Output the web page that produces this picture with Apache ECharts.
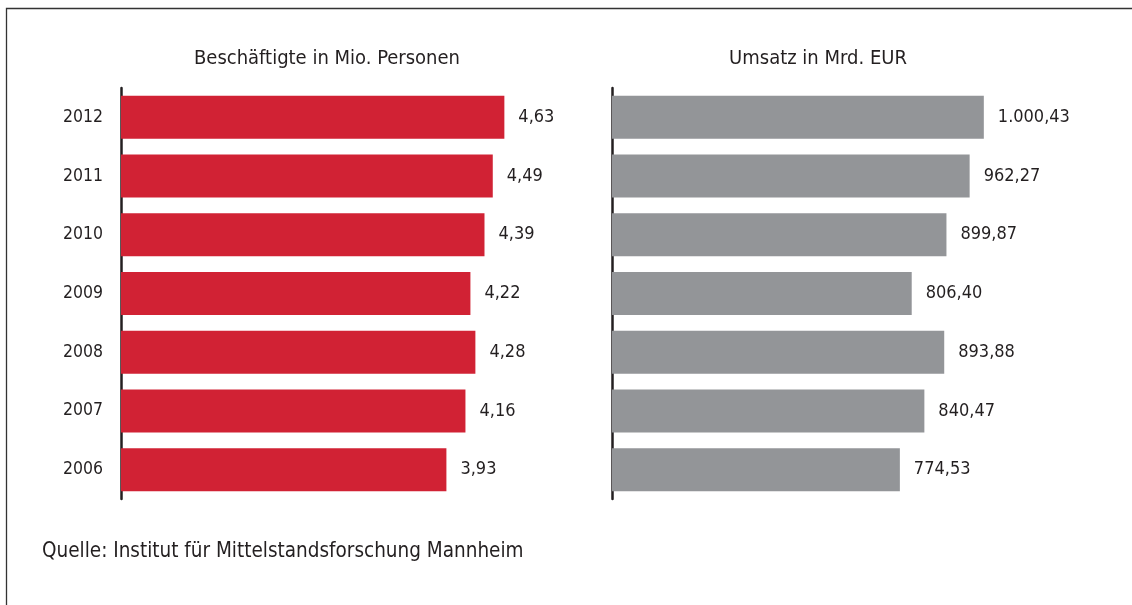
<!DOCTYPE html>
<html>
<head>
<meta charset="utf-8">
<script src="https://cdn.jsdelivr.net/npm/echarts@6/dist/echarts.min.js"></script>
<style>
  html, body { margin: 0; padding: 0; background: #fff; }
  #chart { width: 1132px; height: 605px; }
</style>
</head>
<body>
<div id="chart"></div>
<script>
// Daten
const years = ['2006', '2007', '2008', '2009', '2010', '2011', '2012'];
const beschaeftigte = [3.93, 4.16, 4.28, 4.22, 4.39, 4.49, 4.63];
const umsatz = [774.53, 840.47, 893.88, 806.40, 899.87, 962.27, 1000.43];
const titles = ['Beschäftigte in Mio. Personen', 'Umsatz in Mrd. EUR'];
const quelle = 'Quelle: Institut für Mittelstandsforschung Mannheim';

const textColor = '#231f20';
const font = "'Liberation Sans Narrow', 'DejaVu Sans Condensed', sans-serif";

// deutsche Zahlenformatierung
function fmtDe(v) {
  let parts = v.toFixed(2).split('.');
  let int = parts[0].replace(/\B(?=(\d{3})+(?!\d))/g, '.');
  return int + ',' + parts[1];
}

const chart = echarts.init(document.getElementById('chart'));

const labelStyle = {
  show: true,
  position: 'right',
  distance: 14,
  color: textColor,
  fontSize: 18,
  fontFamily: font,
  formatter: p => fmtDe(p.value)
};

const option = {
  backgroundColor: '#ffffff',
  animation: false,
  title: [
    { text: titles[0], left: 322, top: 44, textAlign: 'center',
      textStyle: { color: textColor, fontSize: 20, fontWeight: 'normal', fontFamily: font } },
    { text: titles[1], left: 813, top: 44, textAlign: 'center',
      textStyle: { color: textColor, fontSize: 20, fontWeight: 'normal', fontFamily: font } },
    { text: quelle, left: 37, top: 536,
      textStyle: { color: textColor, fontSize: 20.5, fontWeight: 'normal', fontFamily: font } }
  ],
  graphic: [
    { type: 'polyline', silent: true,
      shape: { points: [[6.5, 610], [6.5, 8.5], [1140, 8.5]] },
      style: { stroke: '#333', lineWidth: 1.3, fill: null } }
  ],
  grid: [
    { left: 121, top: 88, width: 414, height: 411 },
    { left: 612, top: 88, width: 446, height: 411 }
  ],
  xAxis: [
    { gridIndex: 0, type: 'value', min: 0, max: 5, show: false },
    { gridIndex: 1, type: 'value', min: 0, max: 1200, show: false }
  ],
  yAxis: [
    { gridIndex: 0, type: 'category', data: years,
      axisLine: { show: true, lineStyle: { color: textColor, width: 2.5 } },
      axisTick: { show: false }, splitLine: { show: false },
      axisLabel: { color: textColor, fontSize: 17.5, fontFamily: font, margin: 18 } },
    { gridIndex: 1, type: 'category', data: years,
      axisLine: { show: true, lineStyle: { color: textColor, width: 2.5 } },
      axisTick: { show: false }, splitLine: { show: false },
      axisLabel: { show: false } }
  ],
  series: [
    { type: 'bar', xAxisIndex: 0, yAxisIndex: 0, data: beschaeftigte,
      barWidth: 43, itemStyle: { color: '#d12234' }, label: labelStyle },
    { type: 'bar', xAxisIndex: 1, yAxisIndex: 1, data: umsatz,
      barWidth: 43, itemStyle: { color: '#939598' }, label: labelStyle }
  ]
};

chart.setOption(option);
</script>
</body>
</html>
